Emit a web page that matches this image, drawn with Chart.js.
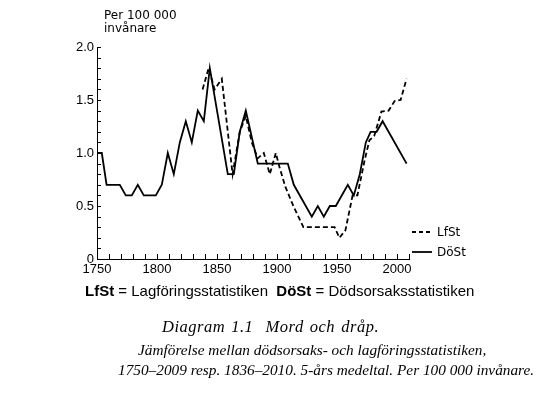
<!DOCTYPE html>
<html>
<head>
<meta charset="utf-8">
<script src="https://cdn.jsdelivr.net/npm/chart.js@4"></script>
<style>
  html, body { margin: 0; padding: 0; background: #fff; }
  #wrap { position: relative; width: 548px; height: 396px; overflow: hidden; }
  canvas { position: absolute; left: 0; top: 0; }
  .t { position: absolute; white-space: nowrap; color: #000; }
  .unit { font: 12px/12px "DejaVu Sans", sans-serif; left: 104px; }
  .leg { font: 12px/12px "DejaVu Sans", sans-serif; left: 437px; }
  .foot { font: 15px/15px "Liberation Sans", Arial, sans-serif; left: 85px; top: 283px; }
  .cap { font: italic 15.3px/16px "Liberation Serif", "Times New Roman", serif; }
  .cap1 { font: italic 16.5px/17px "Liberation Serif", "Times New Roman", serif; letter-spacing: 0.5px; word-spacing: 1.5px; }
</style>
</head>
<body>
<div id="wrap">
  <canvas id="c" width="548" height="396"></canvas>
  <div class="t unit" style="top:9px">Per 100 000</div>
  <div class="t unit" style="top:22px">invånare</div>
  <div class="t leg" style="top:226px">LfSt</div>
  <div class="t leg" style="top:246px">DöSt</div>
  <div class="t foot"><b>LfSt</b> = Lagföringsstatistiken&nbsp; <b>DöSt</b> = Dödsorsaksstatistiken</div>
  <div class="t cap1" style="left:162px; top:318px">Diagram 1.1&nbsp; Mord och dråp.</div>
  <div class="t cap" style="left:138px; top:342px">Jämförelse mellan dödsorsaks- och lagföringsstatistiken,</div>
  <div class="t cap" style="left:118px; top:362px">1750–2009 resp. 1836–2010. 5-års medeltal. Per 100 000 invånare.</div>
</div>
<script>
// DöSt (Dödsorsaksstatistiken) – solid line
const dostYears = [1750,1754,1758,1769,1774,1779,1784,1789,1799,1804,1809,1814,1819,1824,1829,1834,1839,1844,1859,1864,1869,1874,1884,1909,1914,1929,1934,1939,1944,1949,1959,1964,1969,1974,1978,1983,1988,2008];
const dostValues = [1.0,1.0,0.7,0.7,0.6,0.6,0.7,0.6,0.6,0.7,1.0,0.8,1.1,1.3,1.1,1.4,1.3,1.8,0.8,0.8,1.2,1.4,0.9,0.9,0.7,0.4,0.5,0.4,0.5,0.5,0.7,0.6,0.8,1.1,1.2,1.2,1.3,0.9];
// LfSt (Lagföringsstatistiken) – dashed line
const lfstYears = [1838,1843,1848,1854,1863,1869,1874,1879,1884,1889,1894,1899,1902,1907,1914,1922,1948,1952,1957,1963,1967,1973,1977,1981,1987,1993,1998,2003,2008];
const lfstValues = [1.6,1.8,1.6,1.7,0.8,1.2,1.35,1.1,0.95,1.0,0.8,1.0,0.87,0.68,0.49,0.3,0.3,0.2,0.27,0.6,0.6,0.93,1.12,1.16,1.39,1.4,1.49,1.5,1.7];
// Axis settings
const xMin = 1750, xMax = 2010, xStep = 10, xLabelEvery = 50;
const yMin = 0, yMax = 2.0, yStep = 0.1, yLabelEvery = 0.5;

const toPts = (xs, ys) => xs.map((x, i) => ({ x: x, y: ys[i] }));

const inwardTicks = {
  id: 'inwardTicks',
  afterDraw(chart) {
    const ctx = chart.ctx;
    const xs = chart.scales.x, ys = chart.scales.y;
    const a = chart.chartArea;
    ctx.save();
    ctx.strokeStyle = '#000';
    ctx.lineWidth = 1;
    ctx.beginPath();
    xs.ticks.forEach(t => {
      const px = Math.round(xs.getPixelForValue(t.value)) + 0.5;
      ctx.moveTo(px, a.bottom);
      ctx.lineTo(px, a.bottom - 5);
    });
    ys.ticks.forEach(t => {
      const py = Math.round(ys.getPixelForValue(t.value)) + 0.5;
      ctx.moveTo(a.left, py);
      ctx.lineTo(a.left + 4, py);
    });
    ctx.stroke();
    // legend samples
    ctx.lineWidth = 1.8;
    ctx.setLineDash([4, 3]);
    ctx.beginPath(); ctx.moveTo(412, 232); ctx.lineTo(432, 232); ctx.stroke();
    ctx.setLineDash([]);
    ctx.beginPath(); ctx.moveTo(412, 252); ctx.lineTo(432, 252); ctx.stroke();
    ctx.restore();
  }
};

const isMult = (v, m) => Math.abs(v / m - Math.round(v / m)) < 1e-6;

new Chart(document.getElementById('c'), {
  type: 'line',
  data: {
    datasets: [
      { label: 'LfSt', data: toPts(lfstYears, lfstValues), borderColor: '#000', borderWidth: 1.8, borderDash: [5, 3], pointRadius: 0, tension: 0, fill: false },
      { label: 'DöSt', data: toPts(dostYears, dostValues), borderColor: '#000', borderWidth: 1.8, pointRadius: 0, tension: 0, fill: false }
    ]
  },
  options: {
    responsive: false,
    animation: false,
    layout: { padding: { left: 0, top: 47, right: 139, bottom: 107 } },
    plugins: { legend: { display: false }, tooltip: { enabled: false } },
    scales: {
      x: {
        type: 'linear', min: xMin, max: xMax,
        afterFit(s) { s.height = 30; },
        grid: { display: false, drawTicks: false },
        border: { display: true, color: '#000', width: 1 },
        ticks: {
          stepSize: xStep, autoSkip: false, maxRotation: 0, padding: 3,
          color: '#000', font: { family: 'Liberation Sans', size: 13 },
          callback: v => isMult(v, xLabelEvery) ? String(Math.round(v)) : ''
        }
      },
      y: {
        min: yMin, max: yMax,
        afterFit(s) { s.width = 97; },
        grid: { display: false, drawTicks: false },
        border: { display: true, color: '#000', width: 1 },
        ticks: {
          stepSize: yStep, autoSkip: false, padding: 3,
          color: '#000', font: { family: 'Liberation Sans', size: 13 },
          callback: v => isMult(v, yLabelEvery) ? (Math.abs(v) < 1e-9 ? '0' : v.toFixed(1)) : ''
        }
      }
    }
  },
  plugins: [inwardTicks]
});
</script>
</body>
</html>
